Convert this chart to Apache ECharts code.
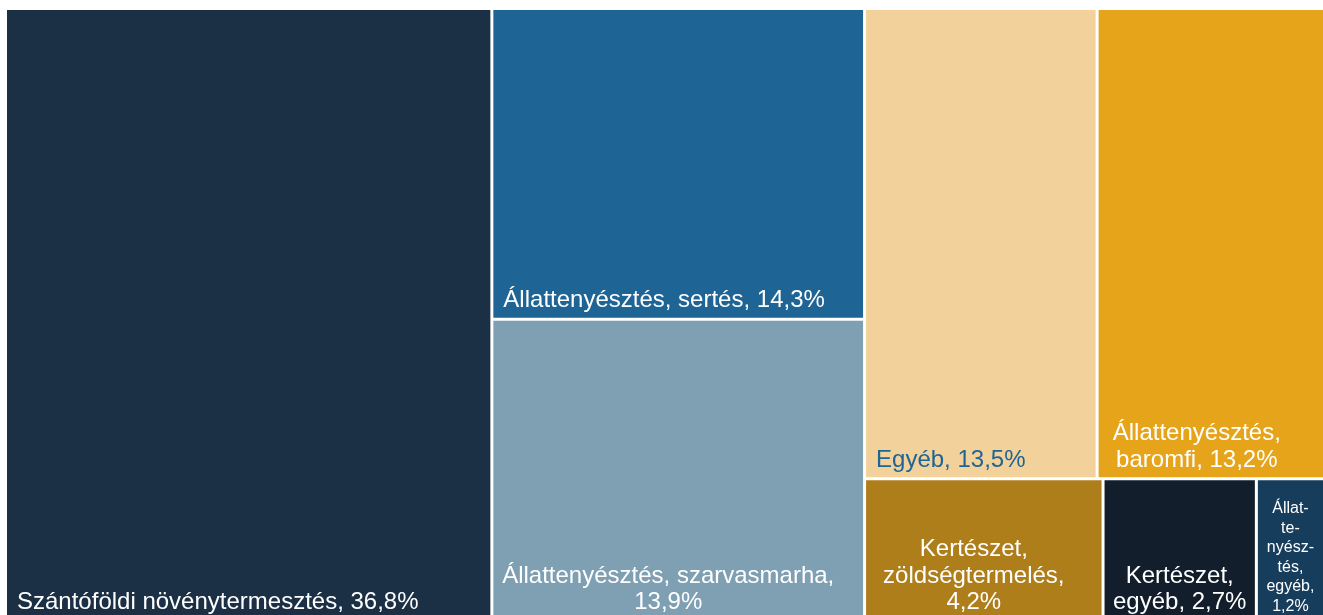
<!DOCTYPE html>
<html>
<head>
<meta charset="utf-8">
<script src="https://cdn.jsdelivr.net/npm/echarts@6/dist/echarts.min.js"></script>
<style>
html, body { margin: 0; padding: 0; background: #fff; }
#main { width: 1323px; height: 615px; }
</style>
</head>
<body>
<div id="main"></div>
<script>
// ágazatok és részesedésük (%)
const names = ['Szántóföldi növénytermesztés', 'Állattenyésztés, sertés', 'Állattenyésztés, szarvasmarha',
    'Egyéb', 'Állattenyésztés, baromfi', 'Kertészet, zöldségtermelés', 'Kertészet, egyéb', 'Állattenyésztés, egyéb'];
const shares = [36.8, 14.3, 13.9, 13.5, 13.2, 4.2, 2.7, 1.2];
// hogyan törjön a felirat
const labelNames = ['Szántóföldi növénytermesztés', 'Állattenyésztés, sertés', 'Állattenyésztés, szarvasmarha,\n',
    'Egyéb', 'Állattenyésztés,\nbaromfi', 'Kertészet,\nzöldségtermelés,\n', 'Kertészet,\negyéb', 'Állat-\nte-\nnyész-\ntés,\negyéb,\n'];
const colors = ['#1b3045', '#1e6494', '#7f9fb2', '#f2d19a', '#e5a419', '#ae7e1b', '#121e2b', '#173d5c'];
const textColors = ['#fff', '#fff', '#fff', '#1e6494', '#fff', '#fff', '#fff', '#fff'];
const centered = [false, false, true, false, true, true, true, true];
const xShift = [0, 0, -10, 0, -14, -10, 0, 0];

function fmt(v) { return v.toFixed(1).replace('.', ','); }

const chart = echarts.init(document.getElementById('main'));

let data = [];
for (let i = 0; i < names.length; i++) {
    let sep = labelNames[i].endsWith('\n') ? '' : ', ';
    let small = i === 7;
    data.push({
        name: names[i],
        value: shares[i],
        itemStyle: { color: colors[i] },
        label: {
            formatter: labelNames[i] + sep + fmt(shares[i]) + '%',
            color: textColors[i],
            position: centered[i] ? 'insideBottom' : 'insideBottomLeft',
            align: centered[i] ? 'center' : 'left',
            fontSize: small ? 16 : 24,
            lineHeight: small ? 19.5 : 26.5,
            distance: small ? 1 : 5,
            offset: [xShift[i], small ? 2 : 6]
        }
    });
}

option = {
    animation: false,
    series: [{
        type: 'treemap',
        left: 7,
        top: 10,
        right: 0,
        bottom: -5,
        roam: false,
        nodeClick: false,
        breadcrumb: { show: false },
        levels: [{ itemStyle: { gapWidth: 3, borderWidth: 0 } }],
        itemStyle: { borderWidth: 0, gapWidth: 3 },
        label: {
            show: true,
            fontFamily: "Arial, 'Liberation Sans', sans-serif",
            overflow: 'none'
        },
        data: data
    }]
};

chart.setOption(option);
</script>
</body>
</html>
